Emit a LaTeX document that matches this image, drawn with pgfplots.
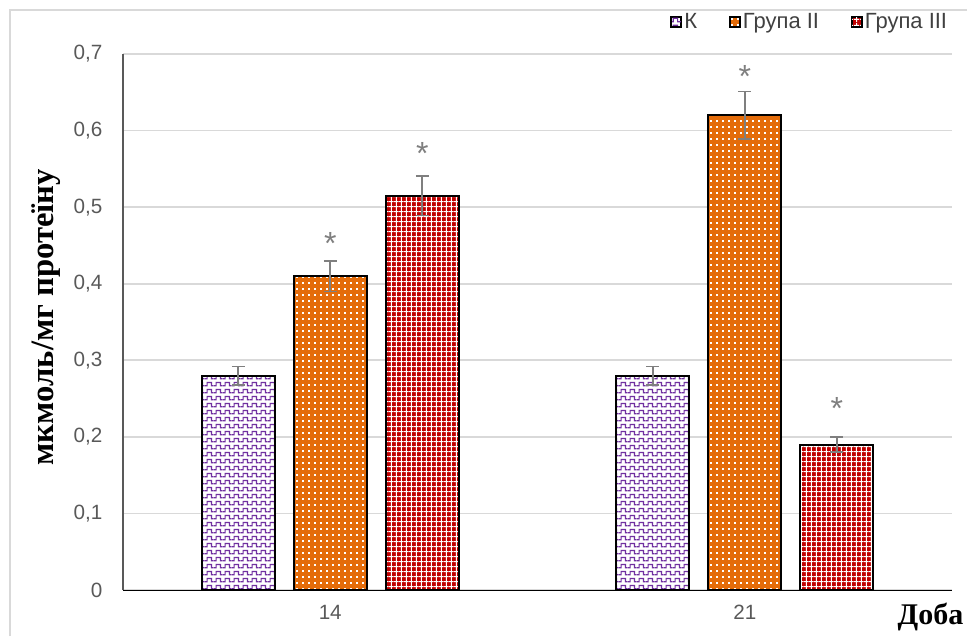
\documentclass[border=0pt]{standalone}
\usepackage{pgfplots}
\pgfplotsset{compat=1.18}
\usepackage{fontspec}
\setmainfont{Liberation Sans}
\newfontfamily\serifb{Liberation Serif}
\usetikzlibrary{patterns.meta}

\definecolor{kpurple}{HTML}{7030A0}
\definecolor{gorange}{HTML}{E46C0A}
\definecolor{gred}{HTML}{C00000}
\definecolor{ticktext}{HTML}{595959}
\definecolor{legtext}{HTML}{404040}
\definecolor{gridgray}{HTML}{D9D9D9}
\definecolor{errgray}{HTML}{7F7F7F}

% purple wave on white
\tikzdeclarepattern{
  name=wavy, type=uncolored,
  bounding box={(0pt,0pt) and (7pt,5pt)},
  tile size={(7pt,5pt)},
  code={\draw[line width=0.9pt] (0pt,1pt) -- (1.75pt,1pt) -- (1.75pt,3.5pt) -- (5.25pt,3.5pt) -- (5.25pt,1pt) -- (7pt,1pt);}
}
% small white dots
\tikzdeclarepattern{
  name=smalldots, type=uncolored,
  bounding box={(0pt,0pt) and (4.8pt,4.8pt)},
  tile size={(4.8pt,4.8pt)},
  code={\fill (1.7pt,1.7pt) rectangle (3.1pt,3.1pt);}
}
% white grid
\tikzdeclarepattern{
  name=whitegrid, type=uncolored,
  bounding box={(0pt,0pt) and (4pt,4pt)},
  tile size={(4pt,4pt)},
  code={\fill (0pt,1.6pt) rectangle (4pt,2.4pt); \fill (1.6pt,0pt) rectangle (2.4pt,4pt);}
}

\begin{document}
\begin{tikzpicture}
% outer chart frame
\useasboundingbox (0pt,0pt) rectangle (725.25pt,-477pt);
\draw[gridgray, line width=1.2pt] (7.5pt,-477pt) -- (7.5pt,-7.5pt) -- (725.25pt,-7.5pt);

\begin{axis}[
  at={(92.25pt,-442.5pt)}, anchor=south west,
  scale only axis, width=621.75pt, height=402pt,
  ybar, bar width=54.75pt,
  xmin=-0.5, xmax=1.5, ymin=0, ymax=0.7,
  xtick={0,1}, xticklabels={14,21},
  ytick={0,0.1,0.2,0.3,0.4,0.5,0.6,0.7},
  yticklabel style={/pgf/number format/fixed, /pgf/number format/precision=1, /pgf/number format/use comma},
  /pgf/number format/assume math mode=true,
  ticklabel style={font=\fontsize{15.5}{18}\selectfont, text=ticktext},
  major tick length=0pt,
  ymajorgrids, grid style={gridgray, line width=1.2pt},
  axis x line=none, axis y line*=left,
  y axis line style={ticktext, line width=1.5pt, -},
  hide x axis=false,
  xticklabel style={yshift=-8pt},
  yticklabel style={xshift=-12pt},
  ylabel={мкмоль/мг протеїну},
  ylabel style={font=\serifb\bfseries\fontsize{24.5}{28}\selectfont, at={(axis description cs:-0.093,0.509)}, anchor=center, rotate=0},
  xlabel={Доба},
  xlabel style={font=\serifb\bfseries\fontsize{22.5}{26}\selectfont, at={(axis description cs:0.974,-0.05)}, anchor=center},
  legend columns=3,
  legend style={at={(axis description cs:0.9976,1.06)}, anchor=east, draw=none, fill=none,
    font=\fontsize{16.5}{19}\selectfont, text=legtext, inner sep=0pt,
    /tikz/every even column/.append style={column sep=22pt}},
  legend cell align=left,
  legend image code/.code={\draw[#1, draw=black, line width=0.8pt] (0pt,-3.75pt) rectangle (7.5pt,3.75pt);},
  error bars/error bar style={errgray, line width=1.3pt},
  error bars/error mark options={rotate=90, mark size=4.8pt, line width=1.3pt, errgray},
]
\addplot[bar shift=-69pt, draw=black, line width=1.5pt,
  preaction={fill=white}, pattern=wavy, pattern color=kpurple,
  error bars/.cd, y dir=both, y explicit]
  coordinates {(0,0.28) +- (0,0.012) (1,0.28) +- (0,0.012)};
\addlegendentry{К}
\addplot[bar shift=0pt, draw=black, line width=1.5pt,
  preaction={fill=gorange}, pattern=smalldots, pattern color=white,
  error bars/.cd, y dir=both, y explicit]
  coordinates {(0,0.41) +- (0,0.02) (1,0.62) +- (0,0.031)};
\addlegendentry{Група II}
\addplot[bar shift=69pt, draw=black, line width=1.5pt,
  preaction={fill=gred}, pattern=whitegrid, pattern color=white,
  error bars/.cd, y dir=both, y explicit]
  coordinates {(0,0.515) +- (0,0.026) (1,0.19) +- (0,0.01)};
\addlegendentry{Група III}

% significance marks above the bars (invisible carriers)
\addplot[forget plot, bar shift=0pt, draw=none, fill=none, nodes near coords={*},
  every node near coord/.style={anchor=center, text=errgray, font=\fontsize{24}{28}\selectfont}]
  coordinates {(0,0.453) (1,0.670)};
\addplot[forget plot, bar shift=69pt, draw=none, fill=none, nodes near coords={*},
  every node near coord/.style={anchor=center, xshift=69pt, text=errgray, font=\fontsize{24}{28}\selectfont}]
  coordinates {(0,0.5705) (1,0.2376)};
\end{axis}
\end{tikzpicture}
\end{document}
